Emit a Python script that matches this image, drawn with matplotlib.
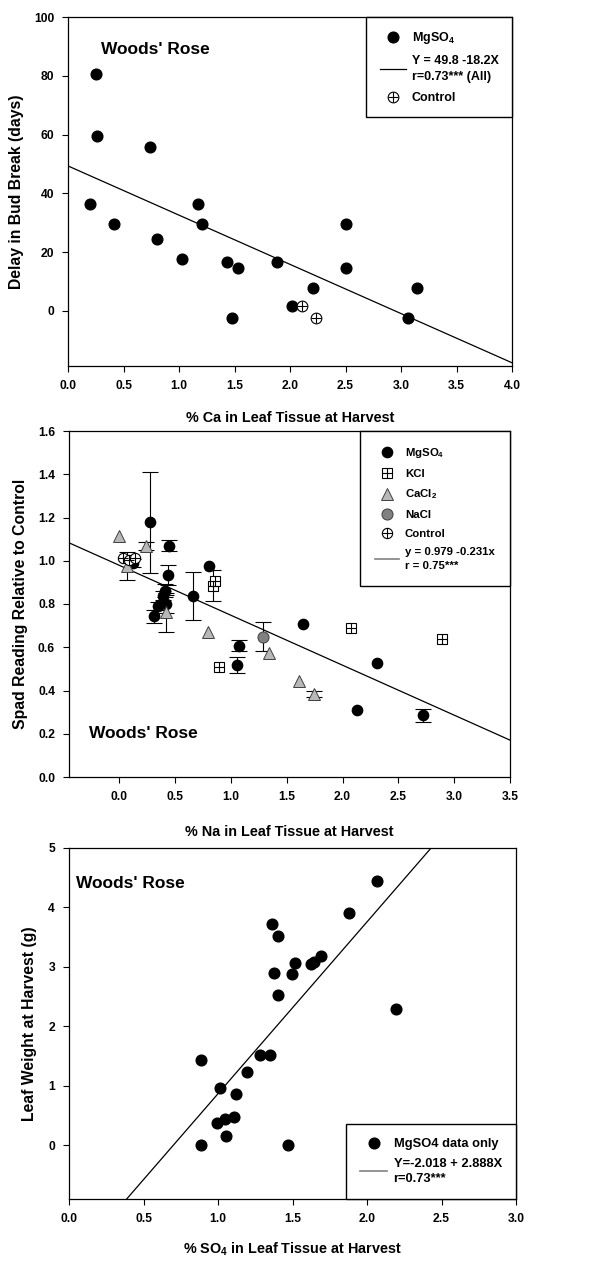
import numpy as np
import matplotlib
matplotlib.use("Agg")
import matplotlib.pyplot as plt
from matplotlib.lines import Line2D
from matplotlib.legend_handler import HandlerTuple

plt.rcParams['font.family'] = ['Liberation Sans', 'DejaVu Sans']
plt.rcParams['font.weight'] = 'bold'
plt.rcParams['mathtext.fontset'] = 'custom'
plt.rcParams['mathtext.rm'] = 'Liberation Sans:bold'
plt.rcParams['mathtext.bf'] = 'Liberation Sans:bold'
plt.rcParams['mathtext.default'] = 'bf'

# ---- panel 1: delay in bud break vs % Ca ----
ca_mg_x = [0.25, 0.26, 0.20, 0.41, 0.74, 0.80, 1.03, 1.17, 1.21, 1.43, 1.53, 1.48,
           1.88, 2.02, 2.21, 2.50, 2.50, 3.06, 3.14]
ca_mg_y = [80.5, 59.6, 36.5, 29.5, 55.6, 24.6, 17.6, 36.5, 29.5, 16.6, 14.6, -2.4,
           16.6, 1.6, 7.6, 29.5, 14.6, -2.4, 7.6]
ca_ctrl_x = [2.11, 2.23]
ca_ctrl_y = [1.6, -2.4]
ca_fit = (49.3, -16.75)

# ---- panel 2: spad reading vs % Na ----
na_mg_x = [0.275, 0.45, 0.436, 0.41, 0.39, 0.42, 0.35, 0.315, 0.806, 0.657, 1.075, 1.057,
           1.642, 2.311, 2.132, 2.72, 0.125]
na_mg_y = [1.177, 1.07, 0.934, 0.862, 0.838, 0.80, 0.79, 0.743, 0.977, 0.837, 0.608, 0.518,
           0.708, 0.525, 0.311, 0.285, 0.99]
na_mg_err = [0.233, 0.025, 0.045, 0.03, 0.02, 0.04, 0.02, 0.03, 0.0, 0.11, 0.025, 0.037,
             0.0, 0.0, 0.0, 0.03, 0.02]
na_kcl_x = [0.842, 0.857, 0.896, 2.075, 2.887]
na_kcl_y = [0.885, 0.906, 0.509, 0.69, 0.638]
na_kcl_err = [0.07, 0.0, 0.0, 0.0, 0.0]
na_cacl_x = [0.0, 0.236, 0.066, 0.415, 0.794, 1.344, 1.61, 1.744]
na_cacl_y = [1.114, 1.068, 0.977, 0.762, 0.672, 0.572, 0.445, 0.385]
na_cacl_err = [0.0, 0.02, 0.065, 0.09, 0.0, 0.0, 0.0, 0.015]
na_nacl_x = [1.29]
na_nacl_y = [0.649]
na_nacl_err = [0.068]
na_ctrl_x = [0.036, 0.09, 0.14]
na_ctrl_y = [1.012, 1.003, 1.014]
na_fit = (0.979, -0.231)

# ---- panel 3: leaf weight vs % SO4 ----
so4_x = [2.068, 1.876, 1.362, 1.406, 1.69, 1.625, 1.645, 1.516, 1.377, 1.498, 1.40, 2.193,
         1.279, 1.346, 1.192, 0.888, 1.015, 1.122, 0.995, 1.044, 1.105, 1.053, 0.888, 1.467]
so4_y = [4.45, 3.90, 3.73, 3.52, 3.18, 3.05, 3.08, 3.07, 2.90, 2.88, 2.53, 2.29,
         1.52, 1.52, 1.23, 1.44, 0.97, 0.87, 0.38, 0.45, 0.48, 0.16, 0.01, 0.01]
so4_fit = (-2.018, 2.888)

W, H = 589, 1263
fig = plt.figure(figsize=(W / 100, H / 100), dpi=100)


def add_ax(left, right, top, bottom):
    return fig.add_axes([left / W, 1 - bottom / H, (right - left) / W, (bottom - top) / H])


def style(ax):
    ax.tick_params(direction='out', length=4, width=0.8, labelsize=8.7, pad=6,
                   top=False, right=False)
    for s in ax.spines.values():
        s.set_linewidth(0.9)
    for lab in ax.get_xticklabels() + ax.get_yticklabels():
        lab.set_fontweight('bold')


def fit_line(ax, fit, color='black'):
    xs = np.linspace(*ax.get_xlim(), 50)
    ax.plot(xs, fit[0] + fit[1] * xs, color=color, lw=0.9, zorder=1)


def bars(ax, x, y, err):
    # only draw the bars that have a non-zero error
    x, y, err = np.array(x), np.array(y), np.array(err)
    keep = err > 0
    ax.errorbar(x[keep], y[keep], yerr=err[keep], fmt='none', ecolor='black',
                elinewidth=0.8, capsize=6, capthick=0.8, zorder=2)


def ctrl(ax, x, y, ms):
    o = ax.plot(x, y, 'o', ms=ms, mfc='white', mec='black', mew=0.8, ls='none', zorder=4)[0]
    p = ax.plot(x, y, '+', ms=ms, color='black', mew=0.8, ls='none', zorder=5)[0]
    return (o, p)


leg_kw = dict(frameon=True, fancybox=False, edgecolor='black', framealpha=1,
              borderaxespad=0, handlelength=2.1, handletextpad=0.5,
              handler_map={tuple: HandlerTuple(ndivide=1, pad=0)})
xlab_kw = dict(fontsize=10.4, fontweight='bold')
ylab_kw = dict(fontsize=11.3, fontweight='bold')

# panel 1
ax1 = add_ax(68, 512, 17, 366)
ax1.set_xlim(0, 4)
ax1.set_ylim(-18.8, 100)
fit_line(ax1, ca_fit)
h_mg, = ax1.plot(ca_mg_x, ca_mg_y, 'o', ms=7.7, color='black', ls='none', zorder=3)
h_c = ctrl(ax1, ca_ctrl_x, ca_ctrl_y, 7.7)
ax1.set_xticks(np.arange(0, 4.01, 0.5))
ax1.set_xticklabels([f"{v:.1f}" for v in np.arange(0, 4.01, 0.5)])
ax1.set_yticks([0, 20, 40, 60, 80, 100])
ax1.set_xlabel('% Ca in Leaf Tissue at Harvest', labelpad=14, **xlab_kw)
ax1.set_ylabel('Delay in Bud Break (days)', labelpad=7, **ylab_kw)
ax1.text(0.074, 0.908, "Woods' Rose", transform=ax1.transAxes, fontsize=12.5,
         fontweight='bold', va='center', ha='left')
leg1 = ax1.legend([h_mg, Line2D([], [], color='black', lw=0.9), h_c],
                  ['MgSO$_4$', 'Y = 49.8 -18.2X\nr=0.73*** (All)', 'Control'],
                  loc='upper right', prop={'size': 9, 'weight': 'bold'},
                  labelspacing=0.7, borderpad=1.05, **leg_kw)
leg1.get_texts()[1].set_linespacing(1.5)
style(ax1)

# panel 2
ax2 = add_ax(69, 510, 431, 777)
ax2.set_xlim(-0.45, 3.5)
ax2.set_ylim(0, 1.6)
fit_line(ax2, na_fit)
bars(ax2, na_mg_x, na_mg_y, na_mg_err)
bars(ax2, na_kcl_x, na_kcl_y, na_kcl_err)
bars(ax2, na_cacl_x, na_cacl_y, na_cacl_err)
bars(ax2, na_nacl_x, na_nacl_y, na_nacl_err)
h_mg2, = ax2.plot(na_mg_x, na_mg_y, 'o', ms=7.4, color='black', ls='none', zorder=3)
h_k = (ax2.plot(na_kcl_x, na_kcl_y, 's', ms=7.2, mfc='white', mec='black', mew=0.8,
                ls='none', zorder=4)[0],
       ax2.plot(na_kcl_x, na_kcl_y, '+', ms=7.2, color='black', mew=0.8, ls='none',
                zorder=5)[0])
h_ca, = ax2.plot(na_cacl_x, na_cacl_y, '^', ms=8.5, mfc='#b8b8b8', mec='#404040', mew=0.7,
                 ls='none', zorder=3)
h_na, = ax2.plot(na_nacl_x, na_nacl_y, 'o', ms=8, mfc='#808080', mec='#404040', mew=0.7,
                 ls='none', zorder=3)
h_c2 = ctrl(ax2, na_ctrl_x, na_ctrl_y, 7.4)
ax2.set_xticks(np.arange(0, 3.51, 0.5))
ax2.set_xticklabels([f"{v:.1f}" for v in np.arange(0, 3.51, 0.5)])
ax2.set_yticks(np.arange(0, 1.61, 0.2))
ax2.set_yticklabels([f"{v:.1f}" for v in np.arange(0, 1.61, 0.2)])
ax2.set_xlabel('% Na in Leaf Tissue at Harvest', labelpad=16, **xlab_kw)
ax2.set_ylabel('Spad Reading Relative to Control', labelpad=7, **ylab_kw)
ax2.text(0.045, 0.127, "Woods' Rose", transform=ax2.transAxes, fontsize=12.5,
         fontweight='bold', va='center', ha='left')
leg2 = ax2.legend([h_mg2, h_k, h_ca, h_na, h_c2, Line2D([], [], color='#808080', lw=1.2)],
                  ['MgSO$_4$', 'KCl', 'CaCl$_2$', 'NaCl', 'Control',
                   'y = 0.979 -0.231x\nr = 0.75***'],
                  loc='upper right', prop={'size': 8.2, 'weight': 'bold'},
                  labelspacing=0.76, borderpad=1.35, **leg_kw)
leg2.get_texts()[5].set_linespacing(1.4)
style(ax2)

# panel 3
ax3 = add_ax(69, 516, 848, 1199)
ax3.set_xlim(0, 3)
ax3.set_ylim(-0.9, 5)
fit_line(ax3, so4_fit)
h_s, = ax3.plot(so4_x, so4_y, 'o', ms=7.7, color='black', ls='none', zorder=3)
ax3.set_xticks(np.arange(0, 3.01, 0.5))
ax3.set_xticklabels([f"{v:.1f}" for v in np.arange(0, 3.01, 0.5)])
ax3.set_yticks([0, 1, 2, 3, 4, 5])
ax3.set_xlabel('% SO$_4$ in Leaf Tissue at Harvest', labelpad=11, **xlab_kw)
ax3.set_ylabel('Leaf Weight at Harvest (g)', labelpad=8, **ylab_kw)
ax3.text(0.016, 0.90, "Woods' Rose", transform=ax3.transAxes, fontsize=12.5,
         fontweight='bold', va='center', ha='left')
leg3 = ax3.legend([h_s, Line2D([], [], color='#808080', lw=1.2)],
                  ['MgSO4 data only', 'Y=-2.018 + 2.888X\nr=0.73***'],
                  loc='lower right', prop={'size': 9.3, 'weight': 'bold'},
                  labelspacing=0.6, borderpad=1.1, **leg_kw)
leg3.get_texts()[1].set_linespacing(1.3)
style(ax3)

fig.savefig('out.png', dpi=100)
